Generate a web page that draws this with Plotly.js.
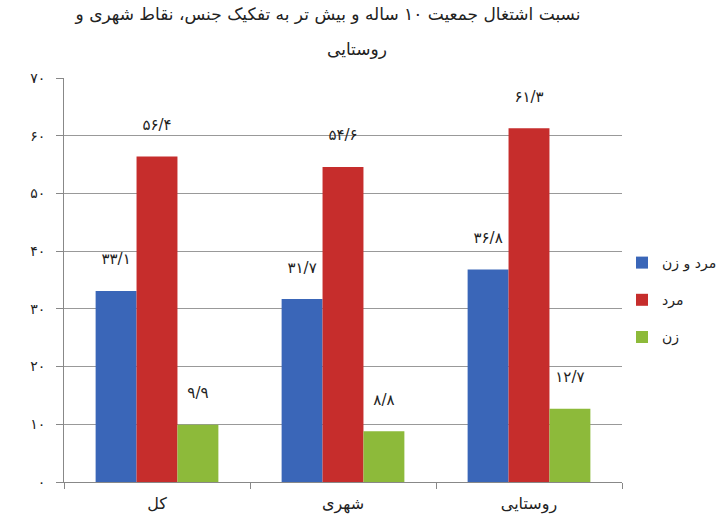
<!DOCTYPE html>
<html><head><meta charset="utf-8">
<script src="https://cdn.plot.ly/plotly-3.0.1.min.js"></script>
<style>body{margin:0;background:#fff}#c{width:722px;height:526px}</style>
</head><body><div id="c"></div>
<script>
const categories = ["کل", "شهری", "روستایی"];
const seriesNames = ["مرد و زن", "مرد", "زن"];
const valuesBoth = [33.1, 31.7, 36.8];
const valuesMen = [56.4, 54.6, 61.3];
const valuesWomen = [9.9, 8.8, 12.7];
const yTickVals = [0, 10, 20, 30, 40, 50, 60, 70];
const titleLine1 = "نسبت اشتغال جمعیت ۱۰ ساله و بیش تر به تفکیک جنس، نقاط شهری و";
const titleLine2 = "روستایی";
const colors = ["#3a66b8", "#c62d2c", "#8dba3a"];

const fa = s => String(s).replace(/[0-9]/g, d => "۰۱۲۳۴۵۶۷۸۹"[d]).replace(".", "/");
const yTickText = yTickVals.map(fa);

const font = "DejaVu Sans, Liberation Sans, sans-serif";
const series = [valuesBoth, valuesMen, valuesWomen];
const data = series.map((vals, i) => ({
  type: "bar",
  name: seriesNames[i],
  legendgroup: "g" + i,
  x: categories,
  y: vals,
  text: vals.map(v => fa(v.toFixed(1)) + "<br>\u00a0"),
  textposition: "outside",
  cliponaxis: false,
  textfont: {family: font, size: 15, color: "#222"},
  marker: {color: colors[i]}
}));

const layout = {
  width: 722, height: 526,
  paper_bgcolor: "#fff", plot_bgcolor: "#fff",
  margin: {l: 64, r: 100, t: 78, b: 44, autoexpand: false},
  title: {text: titleLine1,
          font: {family: font, size: 17, color: "#222"},
          xref: "paper", x: (328 - 64) / 558, xanchor: "center", yref: "container", y: 0.985, yanchor: "top"},
  annotations: [{text: titleLine2, xref: "paper", yref: "paper", x: (357 - 64) / 558, y: (482 - 49) / 404,
                 xanchor: "center", yanchor: "middle", showarrow: false,
                 font: {family: font, size: 17, color: "#222"}}],
  bargap: 0.34, bargroupgap: 0,
  showlegend: true,
  legend: {x: 1.0, xanchor: "left", y: (482 - 300) / 404, yanchor: "middle",
           font: {family: font, size: 14, color: "#222"}, tracegroupgap: 16},
  xaxis: {type: "category", showline: true, linecolor: "#888", linewidth: 1,
          ticks: "outside", tickson: "boundaries", ticklen: 6, tickcolor: "#888",
          ticklabelstandoff: 7,
          tickfont: {family: font, size: 16, color: "#222"}, showgrid: false},
  yaxis: {range: [0, 70], tickvals: yTickVals, ticktext: yTickText,
          showline: true, linecolor: "#888", linewidth: 1,
          ticks: "outside", ticklen: 7, tickcolor: "#888",
          ticklabelstandoff: 8,
          gridcolor: "#999", gridwidth: 1, zeroline: false,
          tickfont: {family: font, size: 14, color: "#222"}}
};
Plotly.newPlot("c", data, layout, {displayModeBar: false});
</script></body></html>
